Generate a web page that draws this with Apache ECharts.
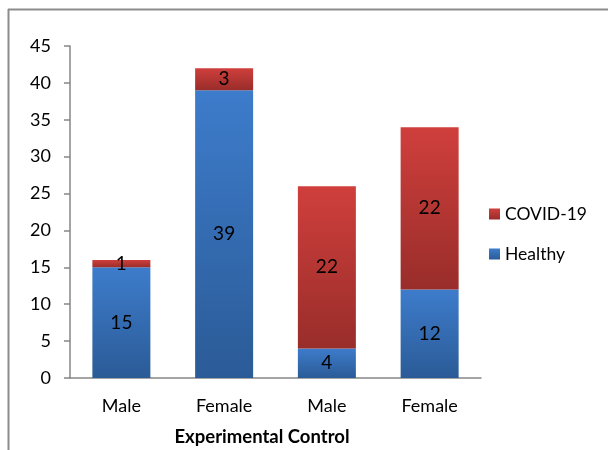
<!DOCTYPE html>
<html><head><meta charset="utf-8">
<script src="https://cdn.jsdelivr.net/npm/echarts@6/dist/echarts.min.js"></script>
<style>html,body{margin:0;padding:0;background:#fff}#c{width:608px;height:450px}</style>
</head><body><div id="c"></div>
<script>
var categories = ['Male', 'Female', 'Male', 'Female'];
var healthy = [15, 39, 4, 12];
var covid = [1, 3, 22, 22];
var yTicks = [0, 5, 10, 15, 20, 25, 30, 35, 40, 45];
var axisTitle = 'Experimental Control';

var font = 'Lato, "Open Sans", sans-serif';
function grad(top, bottom) {
  return new echarts.graphic.LinearGradient(0, 0, 0, 1, [{offset: 0, color: top}, {offset: 1, color: bottom}]);
}
var chart = echarts.init(document.getElementById('c'));
chart.setOption({
  animation: false,
  backgroundColor: '#fff',
  graphic: [
    {type: 'line', shape: {x1: 8, y1: 9.5, x2: 608, y2: 9.5}, style: {stroke: '#8c8c8c', lineWidth: 2}},
    {type: 'line', shape: {x1: 8.5, y1: 9, x2: 8.5, y2: 450}, style: {stroke: '#8c8c8c', lineWidth: 2}},
    {type: 'text', x: 262, y: 437, style: {text: axisTitle, font: 'bold 18.5px ' + font, fill: '#000', align: 'center', verticalAlign: 'middle'}}
  ],
  grid: {left: 70, top: 46, width: 411, height: 332},
  legend: {
    orient: 'vertical', left: 484, top: 200, itemGap: 22,
    itemWidth: 11, itemHeight: 11, icon: 'rect',
    textStyle: {fontFamily: font, fontSize: 17.5, color: '#000'},
    data: ['COVID-19', 'Healthy']
  },
  xAxis: {
    type: 'category', data: categories,
    axisLine: {lineStyle: {color: '#868686', width: 1.5}},
    axisTick: {show: false},
    axisLabel: {fontFamily: font, fontSize: 18, color: '#000', margin: 19}
  },
  yAxis: {
    type: 'value', min: 0, max: 45, interval: 5,
    splitLine: {show: false},
    axisLine: {show: true, lineStyle: {color: '#868686', width: 1.5}},
    axisTick: {show: true, inside: false, length: 6, lineStyle: {color: '#868686', width: 1.5}},
    axisLabel: {fontFamily: font, fontSize: 18, color: '#000', margin: 19,
      formatter: function (v) { return yTicks.indexOf(v) >= 0 ? String(v) : ''; }}
  },
  series: [
    {name: 'Healthy', type: 'bar', stack: 's', data: healthy, barWidth: 58,
      itemStyle: {color: grad('#3d7ccb', '#2b5b97')},
      label: {show: true, position: 'inside', fontFamily: font, fontSize: 19, color: '#000'}},
    {name: 'COVID-19', type: 'bar', stack: 's', data: covid, barWidth: 58,
      itemStyle: {color: grad('#cf3f3c', '#992d2a')},
      label: {show: true, position: 'inside', fontFamily: font, fontSize: 19, color: '#000'}}
  ]
});
</script></body></html>
